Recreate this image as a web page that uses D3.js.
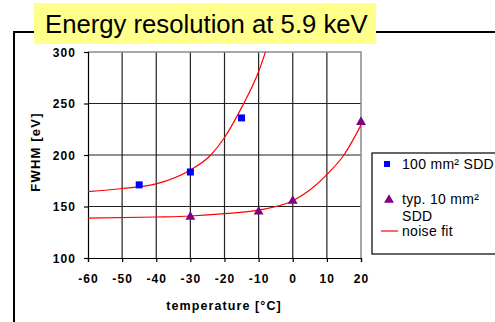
<!DOCTYPE html>
<html>
<head>
<meta charset="utf-8">
<script src="https://cdn.jsdelivr.net/npm/d3@7"></script>
<style>
  body { margin: 0; background: #fff; }
  svg { display: block; font-family: "Liberation Sans", Arial, sans-serif; }
</style>
</head>
<body>
<div id="chart"></div>
<script>
// measured points
const sqTemp = [-45, -30, -15];
const sqFwhm = [171, 183.5, 236];
const triTemp = [-30, -10, 0, 20];
const triFwhm = [140, 145, 155.5, 232];

// noise fit curves
const fitUpTemp = [-60, -50, -40, -30, -24, -20, -15, -10, -8, -7];
const fitUpFwhm = [164.5, 167.5, 172, 185.5, 200, 217, 246, 281, 300, 310];
const fitLowTemp = [-60, -40, -30, -20, -10, 0, 5, 10, 15, 20];
const fitLowFwhm = [138.7, 139.8, 140.8, 143, 146.5, 155.5, 166, 181, 200, 229];

const xTicks = [-60, -50, -40, -30, -20, -10, 0, 10, 20];
const yTicks = [100, 150, 200, 250, 300];

const W = 495, H = 322;
const svg = d3.select("#chart").append("svg")
    .attr("width", W).attr("height", H);

const x = d3.scaleLinear().domain([-60, 20]).range([88, 361]);
const y = d3.scaleLinear().domain([100, 300]).range([258, 52]);

// outer frame (cut off at right / bottom)
svg.append("rect")
    .attr("x", 14).attr("y", 32)
    .attr("width", 520).attr("height", 320)
    .attr("fill", "none").attr("stroke", "#000").attr("stroke-width", 2);

// plot area
svg.append("rect")
    .attr("x", x(-60)).attr("y", y(300))
    .attr("width", x(20) - x(-60)).attr("height", y(100) - y(300))
    .attr("fill", "#fff");

const defs = svg.append("defs");
defs.append("clipPath").attr("id", "clip")
    .append("rect")
    .attr("x", x(-60)).attr("y", y(300))
    .attr("width", x(20) - x(-60)).attr("height", y(100) - y(300));

// grid
svg.append("g").selectAll("line")
    .data(xTicks.slice(1, -1))
    .enter().append("line")
    .attr("x1", d => x(d)).attr("x2", d => x(d))
    .attr("y1", y(300)).attr("y2", y(100))
    .attr("stroke", "#222").attr("stroke-width", 1.2);

svg.append("g").selectAll("line")
    .data(yTicks.slice(1, -1))
    .enter().append("line")
    .attr("x1", x(-60)).attr("x2", x(20))
    .attr("y1", d => y(d)).attr("y2", d => y(d))
    .attr("stroke", "#222").attr("stroke-width", 1.2);

// top / right border grey
svg.append("path")
    .attr("d", `M${x(-60)},${y(300)}H${x(20)}V${y(100)}`)
    .attr("fill", "none").attr("stroke", "#8a8a8a").attr("stroke-width", 1.5);

// axes
const xAxis = svg.append("g")
    .attr("transform", `translate(0,${y(100)})`)
    .call(d3.axisBottom(x).tickValues(xTicks).tickSize(4).tickFormat(d => String(d)));
const yAxis = svg.append("g")
    .attr("transform", `translate(${x(-60)},0)`)
    .call(d3.axisLeft(y).tickValues(yTicks).tickSize(4));

[xAxis, yAxis].forEach(a => {
  a.select(".domain").attr("stroke", "#000").attr("stroke-width", 1.2);
  a.selectAll(".tick line").attr("stroke", "#000").attr("stroke-width", 1.2);
  a.selectAll("text")
      .attr("font-family", "Liberation Sans, Arial, sans-serif")
      .attr("font-size", 12).attr("font-weight", "bold").attr("fill", "#000")
      .attr("letter-spacing", "1.1px");
});
xAxis.selectAll("text").attr("dy", null).attr("y", 25);
yAxis.selectAll("text").attr("x", -12).attr("dy", "0.35em");

// axis titles
svg.append("text")
    .attr("x", 224).attr("y", 310)
    .attr("text-anchor", "middle")
    .attr("font-size", 12.5).attr("font-weight", "bold").attr("letter-spacing", "1.1px")
    .text("temperature [°C]");
svg.append("text")
    .attr("transform", "translate(40,152) rotate(-90)")
    .attr("text-anchor", "middle")
    .attr("font-size", 13).attr("font-weight", "bold").attr("letter-spacing", "1.2px")
    .text("FWHM [eV]");

// fit lines
const line = d3.line()
    .x(d => x(d[0])).y(d => y(d[1]))
    .curve(d3.curveMonotoneX);
const fits = svg.append("g").attr("clip-path", "url(#clip)");
fits.append("path")
    .attr("d", line(d3.zip(fitUpTemp, fitUpFwhm)))
    .attr("fill", "none").attr("stroke", "#ff0000").attr("stroke-width", 1.2);
fits.append("path")
    .attr("d", line(d3.zip(fitLowTemp, fitLowFwhm)))
    .attr("fill", "none").attr("stroke", "#ff0000").attr("stroke-width", 1.2);

// markers
svg.append("g").selectAll("path")
    .data(d3.zip(sqTemp, sqFwhm))
    .enter().append("path")
    .attr("transform", d => `translate(${x(d[0])},${y(d[1])})`)
    .attr("d", d3.symbol(d3.symbolSquare, 49))
    .attr("fill", "#0000ff");
svg.append("g").selectAll("path")
    .data(d3.zip(triTemp, triFwhm))
    .enter().append("path")
    .attr("transform", d => `translate(${x(d[0])},${y(d[1])})`)
    .attr("d", d3.symbol(d3.symbolTriangle, 42))
    .attr("fill", "#800080");

// legend
const lg = svg.append("g");
lg.append("rect")
    .attr("x", 372).attr("y", 153).attr("width", 140).attr("height", 101)
    .attr("fill", "#fff").attr("stroke", "#000").attr("stroke-width", 1.2);
lg.append("path")
    .attr("transform", "translate(387,164)")
    .attr("d", d3.symbol(d3.symbolSquare, 36))
    .attr("fill", "#0000ff");
lg.append("path")
    .attr("transform", "translate(389,200)")
    .attr("d", d3.symbol(d3.symbolTriangle, 42))
    .attr("fill", "#800080");
lg.append("line")
    .attr("x1", 381).attr("x2", 398).attr("y1", 231).attr("y2", 231)
    .attr("stroke", "#ff0000").attr("stroke-width", 1.2);
const legendText = [["100 mm² SDD", 164], ["typ. 10 mm²", 199], ["SDD", 216], ["noise fit", 231]];
lg.selectAll("text.lt")
    .data(legendText)
    .enter().append("text")
    .attr("class", "lt")
    .attr("x", 402).attr("y", d => d[1]).attr("dy", "0.35em")
    .attr("font-size", 14).attr("letter-spacing", "0.3px")
    .text(d => d[0]);

// title
svg.append("rect")
    .attr("x", 34).attr("y", 3).attr("width", 342).attr("height", 41)
    .attr("fill", "#ffff8c");
svg.append("text")
    .attr("x", 45).attr("y", 32.5)
    .attr("font-size", 25.7)
    .text("Energy resolution at 5.9 keV");
</script>
</body>
</html>
